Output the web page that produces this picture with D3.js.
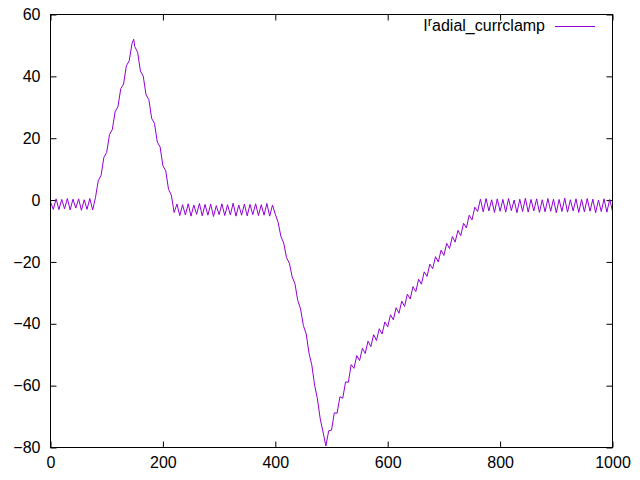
<!DOCTYPE html>
<html>
<head>
<meta charset="utf-8">
<script src="https://cdn.jsdelivr.net/npm/d3@7"></script>
<style>
  html, body { margin: 0; padding: 0; background: #fff; }
  svg { display: block; }
  text { font-family: "Liberation Sans", Arial, sans-serif; }
</style>
</head>
<body>
<svg id="chart" width="640" height="480"></svg>
<script>
// ---- data ----
const seriesName = "I_radial_currclamp";
const xValues = [
  0,5,10,15,20,25,30,35,40,45,50,55,60,65,70,75,
  80,85,90,95,100,105,110,115,120,125,130,135,140,145,148,
  150,155,160,165,170,175,180,185,190,195,200,205,210,215,220,
  225,230,235,240,245,250,255,260,265,270,275,280,285,290,295,300,305,310,315,320,
  325,330,335,340,345,350,355,360,365,370,375,380,385,390,395,
  400,405,410,415,420,425,430,435,440,445,450,455,460,465,470,475,480,485,490,
  495,500,505,510,515,520,525,530,535,540,545,550,555,560,565,570,575,580,585,590,
  595,600,605,610,615,620,625,630,635,640,645,650,655,660,665,670,675,680,685,690,
  695,700,705,710,715,720,725,730,735,740,745,750,755,760,
  765,770,775,780,785,790,795,800,805,810,815,820,825,830,835,840,845,850,855,860,
  865,870,875,880,885,890,895,900,905,910,915,920,925,930,935,940,945,950,955,960,
  965,970,975,980,985,990,995,1000
];
const yValues = [
  -0.6,-3.0,0.4,-3.1,0.2,-2.8,0.5,-3.2,0.3,-2.6,0.4,-3.3,0.1,-3.0,0.5,-3.2,
  0.8,6.3,8.0,13.8,15.4,21.2,22.8,28.6,30.2,36.0,37.5,43.4,45.0,50.6,52.0,
  49.6,47.8,41.7,40.1,34.0,32.5,26.4,24.8,18.8,17.2,11.1,9.5,3.5,1.6,-4.0,
  -1.3,-5.0,-1.5,-4.8,-1.2,-5.2,-1.6,-4.6,-1.1,-5.1,-1.4,-4.9,-1.3,-5.3,-1.8,-4.7,-1.2,-5.0,-1.5,-4.8,
  -1.0,-5.2,-1.6,-4.9,-1.3,-5.1,-1.4,-4.7,-1.2,-5.0,-1.5,-4.9,-1.1,-5.2,-1.6,
  -4.6,-7.2,-11.8,-13.9,-18.6,-20.4,-24.8,-27.1,-32.5,-35.2,-40.6,-43.3,-49.5,-53.4,-59.9,-64.3,-70.8,-75.0,-79.5,
  -74.6,-74.4,-68.8,-68.9,-63.6,-64.1,-58.8,-58.9,-53.2,-54.4,-50.3,-51.9,-47.9,-49.6,-45.6,-47.4,-43.5,-45.4,-41.6,-43.3,
  -39.4,-41.0,-37.1,-38.7,-34.8,-36.6,-32.7,-34.4,-30.4,-32.0,-28.0,-29.6,-25.6,-27.2,-23.2,-24.7,-20.7,-22.2,-18.3,-20.0,
  -16.2,-17.9,-14.0,-15.7,-11.8,-13.6,-9.8,-11.5,-7.5,-9.0,-4.9,-6.4,-2.3,-3.7,
  0.3,-3.8,0.5,-3.5,0.1,-4.0,0.4,-3.6,0.2,-3.9,0.5,-3.4,0.0,-4.1,0.3,-3.7,0.6,-3.9,0.2,-3.5,
  0.4,-4.0,0.1,-3.8,0.5,-3.6,0.3,-4.1,0.2,-3.7,0.6,-3.9,0.1,-3.5,0.4,-4.0,0.2,-3.8,0.5,-3.6,
  0.3,-4.1,0.0,-3.7,0.4,-3.9,0.2,-3.6
];
const xTicks = [0, 200, 400, 600, 800, 1000];
const yTicks = [-80, -60, -40, -20, 0, 20, 40, 60];
const xDomain = [0, 1000];
const yDomain = [-80, 60];

// ---- layout ----
const W = 640, H = 480;
const L = 50.5, R = 612.5, T = 14.5, B = 447.5;
const lineColor = "#9400d3";
const fontSize = 16;

const svg = d3.select("#chart");
svg.append("rect").attr("width", W).attr("height", H).attr("fill", "#fff");

const x = d3.scaleLinear().domain(xDomain).range([L, R]);
const y = d3.scaleLinear().domain(yDomain).range([B, T]);

const data = xValues.map((v, i) => ({ x: v, y: yValues[i] }));

function styleAxis(g, hideText) {
  g.select(".domain").remove();
  g.selectAll(".tick line").attr("stroke", "#000").attr("stroke-width", 1);
  g.selectAll(".tick text")
    .attr("fill", "#000")
    .style("font-size", fontSize + "px")
    .style("font-family", "'Liberation Sans', Arial, sans-serif");
  if (hideText) g.selectAll(".tick text").remove();
}

// bottom axis (ticks inward)
svg.append("g").attr("transform", `translate(0,${B})`)
  .call(d3.axisBottom(x).tickValues(xTicks).tickSizeInner(-6).tickSizeOuter(0).tickPadding(6).tickFormat(d3.format("d")))
  .call(g => styleAxis(g, false))
  .call(g => g.selectAll(".tick text").attr("y", 9));

// top mirror
svg.append("g").attr("transform", `translate(0,${T})`)
  .call(d3.axisTop(x).tickValues(xTicks).tickSizeInner(-6).tickSizeOuter(0))
  .call(g => styleAxis(g, true));

// left axis
svg.append("g").attr("transform", `translate(${L},0)`)
  .call(d3.axisLeft(y).tickValues(yTicks).tickSizeInner(-6).tickSizeOuter(0).tickFormat(d3.format("d")))
  .call(g => styleAxis(g, false))
  .call(g => g.selectAll(".tick text").attr("x", -10));

// right mirror
svg.append("g").attr("transform", `translate(${R},0)`)
  .call(d3.axisRight(y).tickValues(yTicks).tickSizeInner(-6).tickSizeOuter(0))
  .call(g => styleAxis(g, true));

// data line
const line = d3.line().x(d => x(d.x)).y(d => y(d.y));
svg.append("path").datum(data)
  .attr("d", line)
  .attr("fill", "none")
  .attr("stroke", lineColor)
  .attr("stroke-width", 1)
  .attr("stroke-linejoin", "miter");

// border
svg.append("rect")
  .attr("x", L).attr("y", T).attr("width", R - L).attr("height", B - T)
  .attr("fill", "none").attr("stroke", "#000").attr("stroke-width", 1);

// legend (gnuplot enhanced text: "I^radial..." shows a superscript r)
const leg = svg.append("text")
  .attr("x", 545).attr("y", 31)
  .attr("text-anchor", "end")
  .style("font-size", fontSize + "px")
  .attr("fill", "#000");
leg.append("tspan").text("I");
leg.append("tspan").attr("dy", -5).style("font-size", (fontSize * 0.8) + "px").text("r");
leg.append("tspan").attr("dy", 5).text("adial_currclamp");

svg.append("line")
  .attr("x1", 555).attr("x2", 595)
  .attr("y1", 26.5).attr("y2", 26.5)
  .attr("stroke", lineColor).attr("stroke-width", 1);
</script>
</body>
</html>
